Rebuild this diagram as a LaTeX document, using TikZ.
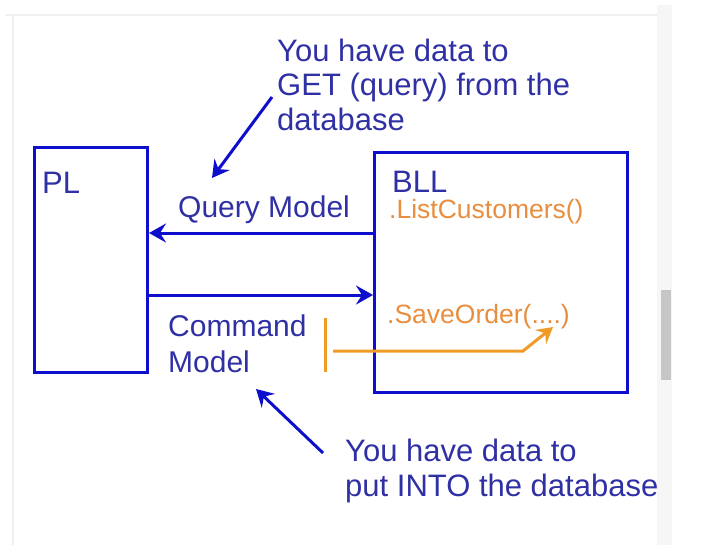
\documentclass[tikz,border=0pt]{standalone}
\usepackage{fontspec}
\setmainfont{Liberation Sans}
\usetikzlibrary{arrows.meta}
\definecolor{boxblue}{RGB}{14,14,205}
\definecolor{txtblue}{RGB}{48,48,165}
\definecolor{codeorange}{RGB}{232,142,62}
\definecolor{lineorange}{RGB}{240,155,40}
\begin{document}
\begin{tikzpicture}[x=1pt,y=-1pt,
          layerbox/.style={draw=boxblue, line width=3pt, inner sep=0pt},
          note/.style={text=txtblue, font=\fontsize{31}{34.5}\selectfont, align=left, anchor=base west, inner sep=0pt},
          method/.style={text=codeorange, font=\fontsize{26.5}{30}\selectfont, anchor=base west, inner sep=0pt},
          flow/.style={draw=boxblue, line width=3pt, -{Stealth[length=17pt,width=19pt,inset=6pt]}},
          call/.style={draw=lineorange, line width=3pt}]
        \useasboundingbox (0,0) rectangle (703,558);
        % screen frame and scroll bar
        \fill[gray!7] (657,5) rectangle (672,545);
        \fill[gray!45] (661,290) rectangle (671,380);
        \draw[gray!12, line width=1.5pt] (5,15) -- (657,15);
        \draw[gray!12, line width=1.5pt] (13,15) -- (13,545);
        % layers
        \node[layerbox, minimum width=113, minimum height=225] (pl) at (91,260) {};
        \node[layerbox, minimum width=253, minimum height=240] (bll) at (501,272.5) {};
        \node[note] (pltxt) at (42,193) {PL};
        \node[note] (blltxt) at (392,192) {BLL};
        \node[method] (listcust) at (389,218) {.ListCustomers()};
        \node[method] (saveord) at (387,323) {.SaveOrder(....)};
        % models (base of a multi-line node = its last line)
        \node[note, font=\fontsize{30}{34}\selectfont] (qmodel) at (178,217) {Query Model};
        \node[note, font=\fontsize{30}{36}\selectfont] (cmodel) at (168,372) {Command\\Model};
        \coordinate (qy) at (0,233);
        \coordinate (cy) at (0,295);
        \draw[flow] (bll.west |- qy) -- (pl.east |- qy);
        \draw[flow] (pl.east |- cy) -- (bll.west |- cy);
        % notes
        \node[note] (getnote) at (277,130) {You have data to\\GET (query) from the\\database};
        \node[note] (putnote) at (345,496) {You have data to\\put INTO the database};
        \coordinate (gettail) at (272,97);
        \coordinate (gettip) at (212,178);
        \coordinate (puttail) at (323,453);
        \coordinate (puttip) at (256,389);
        \draw[flow] (gettail) -- (gettip);
        \draw[flow] (puttail) -- (puttip);
        % call into the BLL
        \coordinate (bartop) at (325,318);
        \coordinate (barbot) at (325,372);
        \coordinate (callstart) at (333,351);
        \coordinate (callbend) at (523,351);
        \coordinate (calltip) at (553,327);
        \draw[call] (bartop) -- (barbot);
        \draw[call, -{Stealth[length=16pt,width=18pt,inset=6pt]}] (callstart) -- (callbend) -- (calltip);
      \end{tikzpicture}
\end{document}
